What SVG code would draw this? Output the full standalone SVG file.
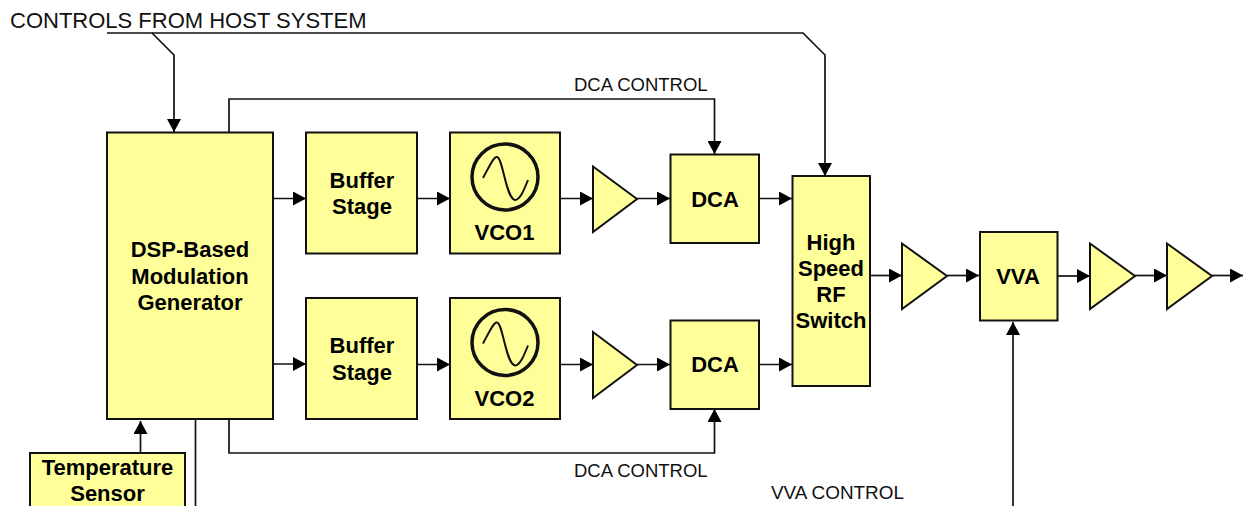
<svg xmlns="http://www.w3.org/2000/svg" width="1243" height="506" viewBox="0 0 1243 506">
<style>
.b{fill:#ffff99;stroke:#111;stroke-width:2}
.t{font-family:"Liberation Sans",Arial,sans-serif;font-weight:bold;font-size:22px;fill:#000;text-anchor:middle}
.l{font-family:"Liberation Sans",Arial,sans-serif;fill:#111}
.c{fill:none;stroke:#111;stroke-width:1.7}
.o{fill:none;stroke:#111}
</style>
<defs>
<marker id="a" markerUnits="userSpaceOnUse" markerWidth="14" markerHeight="14" refX="13" refY="7" orient="auto"><path d="M0 0L13 7L0 14Z" fill="#000"/></marker>
</defs>
<rect width="1243" height="506" fill="#fff"/>
<g id="connectors">
<path class="c" d="M107 33H803L825 55V176" marker-end="url(#a)"/>
<path class="c" d="M152 33L174 55V132" marker-end="url(#a)"/>
<path class="c" d="M229 132V99H714.500V154" marker-end="url(#a)"/>
<path class="c" d="M229 419V453H714.500V409" marker-end="url(#a)"/>
<path class="c" d="M140.500 453V421" marker-end="url(#a)"/>
<path class="c" d="M195.500 419V506"/>
<path class="c" d="M1013 506V322" marker-end="url(#a)"/>
<path class="c" d="M273 198.500H306" marker-end="url(#a)"/>
<path class="c" d="M417 198.500H450" marker-end="url(#a)"/>
<path class="c" d="M560 198.500H593" marker-end="url(#a)"/>
<path class="c" d="M637 198.500H670" marker-end="url(#a)"/>
<path class="c" d="M759 198.500H792" marker-end="url(#a)"/>
<path class="c" d="M273 364H306" marker-end="url(#a)"/>
<path class="c" d="M417 364.500H450" marker-end="url(#a)"/>
<path class="c" d="M560 364.500H593" marker-end="url(#a)"/>
<path class="c" d="M637 364.500H670" marker-end="url(#a)"/>
<path class="c" d="M759 364.500H792" marker-end="url(#a)"/>
<path class="c" d="M870 275.500H902" marker-end="url(#a)"/>
<path class="c" d="M947 275.500H979" marker-end="url(#a)"/>
<path class="c" d="M1058 276H1090" marker-end="url(#a)"/>
<path class="c" d="M1135 275.500H1167" marker-end="url(#a)"/>
<path class="c" d="M1212 275.500H1243" marker-end="url(#a)"/>
</g>
<g id="gen"><rect class="b" x="107" y="132.500" width="166" height="286.500"/><text class="t"><tspan x="190" y="257">DSP-Based</tspan><tspan x="190" y="284">Modulation</tspan><tspan x="190" y="310">Generator</tspan></text></g>
<g id="buf1"><rect class="b" x="306" y="132.500" width="111" height="121"/><text class="t"><tspan x="362" y="188">Buffer</tspan><tspan x="362" y="214">Stage</tspan></text></g>
<g id="buf2"><rect class="b" x="306" y="298" width="111" height="121"/><text class="t"><tspan x="362" y="353">Buffer</tspan><tspan x="362" y="380">Stage</tspan></text></g>
<g id="vco1"><rect class="b" x="450" y="132.500" width="110" height="121"/><circle class="o" cx="505" cy="177" r="33" stroke-width="3.500"/><path class="o" stroke-width="2" d="M483 178C490 165 494 156 497 157C503 158 506 199 515 200C520 200 524 190 528 180"/><text class="t" x="504.500" y="240">VCO1</text></g>
<g id="vco2"><rect class="b" x="450" y="298" width="110" height="121"/><circle class="o" cx="505" cy="342.500" r="33" stroke-width="3.500"/><path class="o" stroke-width="2" d="M483 343.500C490 330.500 494 321.500 497 322.500C503 323.500 506 364.500 515 365.500C520 365.500 524 355.500 528 345.500"/><text class="t" x="504.500" y="406">VCO2</text></g>
<g id="amp1"><path class="b" d="M593 166.500L637 199L593 232Z"/></g>
<g id="amp2"><path class="b" d="M593 332L637 365L593 398Z"/></g>
<g id="dca1"><rect class="b" x="670.500" y="154.500" width="88.500" height="88.500"/><text class="t" x="715" y="207">DCA</text></g>
<g id="dca2"><rect class="b" x="670.500" y="320.500" width="88.500" height="88.500"/><text class="t" x="715" y="372">DCA</text></g>
<g id="switch"><rect class="b" x="792.500" y="176" width="77.500" height="210"/><text class="t"><tspan x="831" y="250">High</tspan><tspan x="831" y="276">Speed</tspan><tspan x="831" y="302">RF</tspan><tspan x="831" y="328">Switch</tspan></text></g>
<g id="amp3"><path class="b" d="M902 243.500L947 276L902 309Z"/></g>
<g id="vva"><rect class="b" x="980" y="232" width="77.500" height="88.500"/><text class="t" x="1018" y="284">VVA</text></g>
<g id="amp4"><path class="b" d="M1090 243.500L1135 276L1090 309Z"/></g>
<g id="amp5"><path class="b" d="M1167 243.500L1212 276L1167 309Z"/></g>
<g id="temp"><rect class="b" x="30" y="453" width="155" height="70"/><text class="t"><tspan x="107.500" y="475">Temperature</tspan><tspan x="107.500" y="501">Sensor</tspan></text></g>
<g id="labels">
<text class="l" x="10" y="28" font-size="22">CONTROLS FROM HOST SYSTEM</text>
<text class="l" x="574" y="91" font-size="18.500">DCA CONTROL</text>
<text class="l" x="574" y="477" font-size="18.500">DCA CONTROL</text>
<text class="l" x="771" y="499" font-size="18.900">VVA CONTROL</text>
</g>
</svg>
